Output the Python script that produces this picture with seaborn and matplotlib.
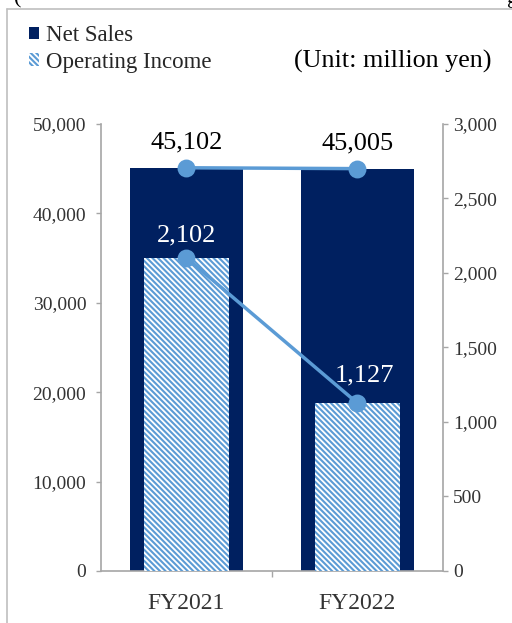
import matplotlib
matplotlib.use("Agg")
import matplotlib.pyplot as plt
import seaborn as sns
import pandas as pd
from matplotlib.patches import Patch
from matplotlib.ticker import FuncFormatter, FixedLocator
from matplotlib.lines import Line2D

years = ["FY2021", "FY2022"]
net_sales = [45102, 45005]
op_income = [2102, 1127]
left_ticks = [0, 10000, 20000, 30000, 40000, 50000]
right_ticks = [0, 500, 1000, 1500, 2000, 2500, 3000]

NAVY = "#002060"
BLUE = "#5B9BD5"
GRAY = "#A6A6A6"
TXT = "#333333"
HATCH = "\\" * 6

sns.set_theme(style="white")
plt.rcParams["font.family"] = ["Liberation Serif", "DejaVu Serif"]
plt.rcParams["hatch.linewidth"] = 1.5

df = pd.DataFrame({"year": years, "sales": net_sales, "op": op_income})

fig = plt.figure(figsize=(5.12, 6.23), dpi=100)
ax = fig.add_axes([0.197, 0.0835, 0.668, 0.7175])
ax2 = ax.twinx()

sns.barplot(data=df, x="year", y="sales", color=NAVY, saturation=1, width=0.66,
            ax=ax, zorder=1, linewidth=0)
sns.pointplot(data=df, x="year", y="sales", color=BLUE, errorbar=None, ax=ax,
              markers="o", markersize=11, linewidth=2.5, zorder=5)

sns.barplot(data=df, x="year", y="op", color="white", saturation=1, width=0.5,
            ax=ax2, zorder=2, hatch=HATCH, edgecolor=BLUE, linewidth=0)
sns.pointplot(data=df, x="year", y="op", color=BLUE, errorbar=None, ax=ax2,
              markers="o", markersize=11, linewidth=2.5, zorder=5)

ax.set_xlim(-0.5, 1.5)
ax.set_ylim(0, 50000)
ax2.set_ylim(0, 3000)
ax.set_yticks(left_ticks)
ax2.set_yticks(right_ticks)
fmt = FuncFormatter(lambda v, p: f"{int(v):,}")
ax.yaxis.set_major_formatter(fmt)
ax2.yaxis.set_major_formatter(fmt)
ax.set_xlabel("")
ax.set_ylabel("")
ax2.set_ylabel("")
ax2.set_xlabel("")

for a in (ax, ax2):
    for s in a.spines.values():
        s.set_color(GRAY)
        s.set_linewidth(1.2)
    a.spines["top"].set_visible(False)
ax.spines["right"].set_visible(False)
ax2.spines["left"].set_visible(False)
ax2.spines["bottom"].set_visible(False)

ax.tick_params(axis="y", which="major", left=True, length=3.5, width=1, color=GRAY,
               labelsize=14, labelcolor=TXT, pad=7)
ax2.tick_params(axis="y", which="major", right=True, length=3.5, width=1, color=GRAY,
                labelsize=14, labelcolor=TXT, pad=4)
ax.tick_params(axis="x", which="major", bottom=False, labelsize=17, labelcolor=TXT, pad=10)
ax.xaxis.set_minor_locator(FixedLocator([0.5]))
ax.tick_params(axis="x", which="minor", bottom=True, length=4, width=1, color=GRAY)

for i, v in enumerate(net_sales):
    ax.annotate(f"{v:,}", (i, v), xytext=(0, 18), textcoords="offset points",
                ha="center", va="center", fontsize=19, color="black")
for i, v in enumerate(op_income):
    dx = 5 if i == 1 else 0
    ax2.annotate(f"{v:,}", (i, v), xytext=(dx, 16 if i == 0 else 20), textcoords="offset points",
                 ha="center", va="center", fontsize=19, color="white")

handles = [Patch(facecolor=NAVY, edgecolor=NAVY, linewidth=0),
           Patch(facecolor="white", edgecolor=BLUE, hatch=HATCH, linewidth=0)]
leg = fig.legend(handles, ["Net Sales", "Operating Income"], loc="upper left",
                 bbox_to_anchor=(0.056, 0.960), frameon=False, fontsize=16.5,
                 handlelength=0.45, handleheight=0.45, handletextpad=0.3,
                 labelspacing=0.25, borderpad=0, borderaxespad=0)
fig.text(0.575, 0.902, "(Unit: million yen)", fontsize=18.8, color="black",
         ha="left", va="center")

# outer frame lines of the surrounding box
fig.add_artist(Line2D([0.0137, 0.0137], [0.0, 0.985], transform=fig.transFigure,
                      color="#BFBFBF", linewidth=1.2))
fig.add_artist(Line2D([0.0137, 1.0], [0.985, 0.985], transform=fig.transFigure,
                      color="#BFBFBF", linewidth=1.2))
fig.text(0.027, 1.002, "(", fontsize=16, ha="left", va="center", color="black")
fig.text(0.99, 1.002, "g", fontsize=16, ha="left", va="center", color="black")

fig.savefig("out.png", dpi=100)
